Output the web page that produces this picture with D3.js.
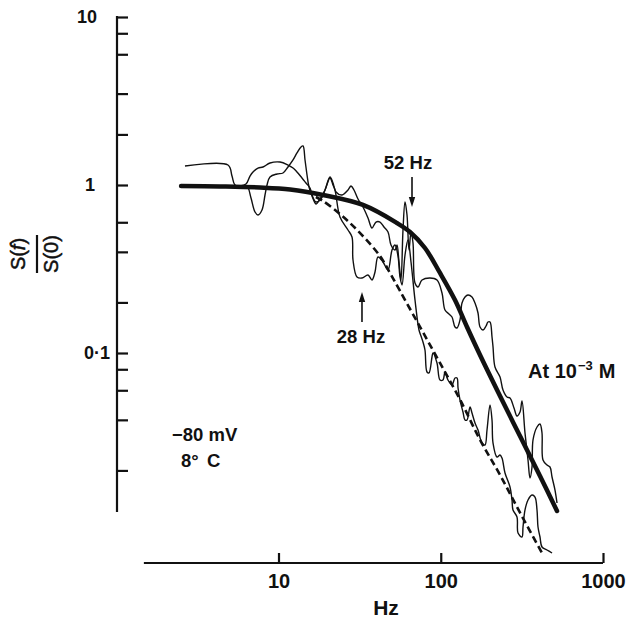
<!DOCTYPE html>
<html><head><meta charset="utf-8">
<script src="https://cdn.jsdelivr.net/npm/d3@7"></script>
<style>html,body{margin:0;padding:0;background:#fff;} svg{display:block;}</style>
</head><body><svg id="chart" width="643" height="619"></svg>
<script>
// ---- axes ----
const xTickValues = [10, 100, 1000];
const xTickLabels = ["10", "100", "1000"];
const yMajorValues = [10, 1, 0.1];
const yMajorLabels = ["10", "1", "0·1"];
const yMinorValues = [8, 6, 3.5, 2, 0.6, 0.4, 0.2, 0.08, 0.06, 0.04, 0.02];
const xAxisStart = 1.48;     // Hz, left end of the x axis line
const yAxisStart = 0.0113;   // lower end of the y axis line

// ---- fitted curves ----
const fitSolidF = [2.51, 4.36, 7.69, 11.8, 18.8, 33.17, 53.74, 64.64, 79.95, 98.94, 122.4, 145.2, 174.6, 231.9, 307.9, 409.0, 520.6];
const fitSolidV = [0.987, 0.980, 0.966, 0.940, 0.872, 0.7605, 0.5938, 0.5252, 0.4217, 0.2994, 0.2067, 0.1428, 0.0973, 0.05546, 0.03206, 0.01853, 0.01147];
const fitDashedF = [17.0, 18.8, 23.9, 30.5, 42.2, 48.7, 56.1, 74.5, 98.9, 131, 175, 232, 308, 421];
const fitDashedV = [0.848, 0.803, 0.672, 0.540, 0.378, 0.299, 0.234, 0.143, 0.0872, 0.0532, 0.0303, 0.0188, 0.0112, 0.00645];

// ---- measured spectra (noisy traces) ----
const traceAF = [2.653, 4.884, 5.169, 5.394, 5.957, 6.396, 6.769, 7.166, 7.477, 7.912,
  8.257, 8.495, 8.864, 9.79, 10.66, 11.44, 12.29, 13.00, 13.76, 14.16,
  14.57, 14.99, 15.42, 16.09, 17.02, 18.02, 19.35, 20.77, 21.67, 22.30,
  23.93, 26.81, 28.38, 28.79, 30.47, 32.71, 35.62, 37.70, 39.34, 41.05,
  44.07, 47.31, 50.07, 52.25, 54.52, 56.09, 57.71, 60.22, 62.83, 65.57,
  69.39, 73.44, 75.55, 77.71, 79.95, 82.26, 84.62, 88.31, 89.57, 94.82,
  98.94, 103.2, 106.2, 110.8, 117.3, 122.4, 126.0, 127.8, 131.4, 137.1,
  141.1, 145.2, 151.5, 155.8, 162.6, 169.7, 179.6, 187.4, 192.8, 201.2,
  207.0, 210.0, 222.3, 231.9, 238.5, 248.9, 267.2, 274.9, 278.8, 295.1,
  299.4, 316.8, 321.4, 330.6, 345.0, 365.2, 381.0, 392.0, 397.6, 409.0,
  420.8, 451.7, 485.1];
const traceAV = [1.297, 1.315, 1.131, 1.000, 0.973, 0.9864, 0.8367, 0.6907, 0.6628, 0.7098,
  0.872, 1.000, 1.116, 1.163, 1.179, 1.280, 1.409, 1.551, 1.684, 1.707,
  1.409, 1.147, 0.973, 0.8602, 0.7708, 0.8254, 0.9338, 1.101, 1.000, 0.9338,
  0.6449, 0.5398, 0.4903, 0.3577, 0.2834, 0.2795, 0.2912, 0.272, 0.3035, 0.3728,
  0.348, 0.3119, 0.4103, 0.4394, 0.3779, 0.2834, 0.254, 0.3831, 0.4706, 0.348,
  0.2067, 0.137, 0.1262, 0.1163, 0.1042, 0.07708, 0.07603, 0.09467, 0.1, 0.0872,
  0.06907, 0.06907, 0.07708, 0.06907, 0.06449, 0.07098, 0.07098, 0.06189, 0.05251, 0.04454,
  0.03993, 0.03993, 0.04771, 0.04394, 0.03831, 0.0348, 0.02912, 0.02834, 0.0348, 0.04903,
  0.03993, 0.02912, 0.02404, 0.0247, 0.02371, 0.01931, 0.01594, 0.01334, 0.01163, 0.01056,
  0.00848, 0.00803, 0.00921, 0.01163, 0.01334, 0.01428, 0.01389, 0.01163, 0.00921, 0.00803,
  0.0070, 0.00672, 0.00645];
const traceBF = [5.790, 6.306, 6.673, 6.963, 7.477, 8.025, 8.864, 10.22, 11.44, 12.29,
  13.00, 13.95, 14.77, 15.64, 16.09, 17.02, 18.28, 19.35, 20.77, 21.67,
  22.62, 24.63, 26.81, 27.98, 29.19, 30.90, 33.17, 35.62, 37.70, 39.89,
  42.23, 44.69, 47.31, 49.36, 52.25, 53.74, 55.29, 56.88, 58.52, 60.22,
  61.95, 63.73, 65.57, 67.45, 69.39, 72.41, 76.64, 85.86, 94.82, 101.8,
  106.2, 112.4, 117.3, 122.4, 126.0, 131.4, 135.2, 141.1, 147.2, 155.8,
  162.6, 169.7, 174.6, 182.2, 190.1, 195.5, 201.2, 207.0, 210.0, 215.9,
  231.9, 241.9, 256.1, 267.2, 282.8, 295.1, 307.9, 316.8, 330.6, 345.0,
  354.8, 365.2, 370.3, 392.0, 409.0, 420.8, 426.8, 451.7, 471.4, 485.1,
  506.0, 520.6];
const traceBV = [0.9864, 1.014, 1.131, 1.195, 1.262, 1.280, 1.352, 1.370, 1.315, 1.262,
  1.195, 1.101, 1.028, 0.9597, 0.872, 0.7922, 0.8254, 0.9338, 1.116, 1.028,
  0.9086, 0.872, 0.9338, 0.9864, 0.9338, 0.8254, 0.7399, 0.6361, 0.5546, 0.6021,
  0.6021, 0.5623, 0.5252, 0.4394, 0.4103, 0.4394, 0.348, 0.272, 0.5398, 0.7922,
  0.6628, 0.4103, 0.5252, 0.4516, 0.261, 0.2471, 0.272, 0.2795, 0.272, 0.2276,
  0.1803, 0.1707, 0.1638, 0.1428, 0.1409, 0.1572, 0.1984, 0.2154, 0.2214, 0.2154,
  0.1984, 0.173, 0.1428, 0.137, 0.1448, 0.1529, 0.1529, 0.1245, 0.1086, 0.08254,
  0.07199, 0.06021, 0.0547, 0.05396, 0.04706, 0.04217, 0.04454, 0.05181, 0.0334, 0.02307,
  0.01803, 0.02096, 0.03035, 0.03627, 0.03779, 0.0334, 0.02307, 0.02154, 0.02096, 0.01828,
  0.01529, 0.0128];

// ---- annotations (arrow anchor frequency, tip value, tail value) ----
const arrowLabels = ["52 Hz", "28 Hz"];
const arrowF = [66.5, 32.7];
const arrowTipV = [0.74, 0.231];
const arrowTailV = [1.116, 0.153];

// ---------------------------------------------------------
const svg = d3.select("#chart");
const x = d3.scaleLog().domain([10, 1000]).range([278.5, 603]);
const y = d3.scaleLog().domain([0.01, 10]).range([521, 17]);
const ink = "#111";
const fontTick = "'Liberation Sans', Arial, sans-serif";

// X axis
const xAxisY = 563;
const gx = svg.append("g").attr("transform", `translate(0,${xAxisY})`)
  .call(d3.axisBottom(x).tickValues(xTickValues).tickFormat((d, i) => xTickLabels[i])
    .tickSizeInner(-10).tickSizeOuter(0).tickPadding(11));
gx.select(".domain").remove();
gx.selectAll(".tick line").attr("stroke", ink).attr("stroke-width", 2.2);
gx.selectAll(".tick text").attr("fill", ink)
  .style("font-family", "'Liberation Sans Narrow', 'Liberation Sans', sans-serif")
  .style("font-weight", "bold").style("font-size", "20px");
svg.append("line").attr("x1", x(xAxisStart)).attr("x2", x(1000))
  .attr("y1", xAxisY).attr("y2", xAxisY).attr("stroke", ink).attr("stroke-width", 2.2);
svg.append("text").text("Hz").attr("x", 386).attr("y", 615).attr("text-anchor", "middle")
  .attr("fill", ink).style("font-family", "'Liberation Sans Narrow', 'Liberation Sans', sans-serif")
  .style("font-weight", "bold").style("font-size", "21px");

// Y axis
const yAxisX = 117;
svg.append("line").attr("x1", yAxisX).attr("x2", yAxisX)
  .attr("y1", y(10) - 1).attr("y2", y(yAxisStart)).attr("stroke", ink).attr("stroke-width", 2.2);
const gy = svg.append("g").attr("transform", `translate(${yAxisX},0)`)
  .call(d3.axisLeft(y).tickValues(yMajorValues.concat(yMinorValues)).tickFormat("")
    .tickSizeInner(-11).tickSizeOuter(0));
gy.select(".domain").remove();
gy.selectAll(".tick line").attr("stroke", ink).attr("stroke-width", 2.2);
const yLabelEnd = [97, 95, 110];
svg.selectAll(".ylab").data(yMajorValues).join("text").attr("class", "ylab")
  .attr("x", (d, i) => yLabelEnd[i]).attr("y", d => y(d) + 6)
  .attr("text-anchor", "end").attr("fill", ink)
  .style("font-family", fontTick).style("font-weight", "bold").style("font-size", "18px")
  .text((d, i) => yMajorLabels[i]);

// Y title: S(f)/S(0) rotated
const yt = svg.append("g").attr("transform", "translate(37,254) rotate(-90)");
const ytFont = "'Liberation Sans', Arial, sans-serif";
const num = yt.append("text").attr("x", 0).attr("y", -12).attr("text-anchor", "middle")
  .attr("fill", ink).attr("stroke", ink).attr("stroke-width", 0.5)
  .style("font-family", ytFont).style("font-size", "20px");
num.append("tspan").text("S(");
num.append("tspan").text("f").style("font-style", "italic");
num.append("tspan").text(")");
yt.append("text").attr("x", 0).attr("y", 21).attr("text-anchor", "middle").attr("fill", ink)
  .attr("stroke", ink).attr("stroke-width", 0.5)
  .style("font-family", ytFont).style("font-size", "20px").text("S(0)");
yt.append("line").attr("x1", -19).attr("x2", 19).attr("y1", 0).attr("y2", 0)
  .attr("stroke", ink).attr("stroke-width", 2.2);

// curves
const smooth = d3.line().x(d => x(d[0])).y(d => y(d[1])).curve(d3.curveCatmullRom.alpha(0.5));
const noisy = d3.line().x(d => x(d[0])).y(d => y(d[1])).curve(d3.curveCatmullRom.alpha(0.5));

svg.append("path").datum(d3.zip(traceAF, traceAV)).attr("d", noisy)
  .attr("fill", "none").attr("stroke", ink).attr("stroke-width", 1.4).attr("stroke-linejoin", "round");
svg.append("path").datum(d3.zip(traceBF, traceBV)).attr("d", noisy)
  .attr("fill", "none").attr("stroke", ink).attr("stroke-width", 1.4).attr("stroke-linejoin", "round");
svg.append("path").datum(d3.zip(fitDashedF, fitDashedV)).attr("d", smooth)
  .attr("fill", "none").attr("stroke", ink).attr("stroke-width", 2.6).attr("stroke-dasharray", "7,4");
svg.append("path").datum(d3.zip(fitSolidF, fitSolidV)).attr("d", smooth)
  .attr("fill", "none").attr("stroke", ink).attr("stroke-width", 4.5).attr("stroke-linecap", "round");

// arrows + labels
const annFont = "'Liberation Sans', Arial, sans-serif";
arrowF.forEach((f, i) => {
  const ax = x(f), tipY = y(arrowTipV[i]), tailY = y(arrowTailV[i]);
  const dir = tipY > tailY ? 1 : -1;
  svg.append("line").attr("x1", ax).attr("x2", ax).attr("y1", tailY).attr("y2", tipY - dir * 8)
    .attr("stroke", ink).attr("stroke-width", 1.6);
  svg.append("path").attr("d", `M${ax},${tipY} L${ax - 3.2},${tipY - dir * 10} L${ax + 3.2},${tipY - dir * 10} Z`)
    .attr("fill", ink);
});
svg.append("text").attr("x", 408).attr("y", 169).attr("text-anchor", "middle").attr("fill", ink)
  .style("font-family", annFont).style("font-weight", "bold").style("font-size", "18.5px").text(arrowLabels[0]);
svg.append("text").attr("x", 361).attr("y", 343).attr("text-anchor", "middle").attr("fill", ink)
  .style("font-family", annFont).style("font-weight", "bold").style("font-size", "18.5px").text(arrowLabels[1]);

const conc = svg.append("text").attr("x", 528).attr("y", 378).attr("fill", ink)
  .style("font-family", annFont).style("font-weight", "bold").style("font-size", "20px");
conc.append("tspan").text("At 10");
conc.append("tspan").text("−3").attr("dy", -8).attr("dx", 1).style("font-size", "13px");
conc.append("tspan").text("M").attr("dy", 8).attr("dx", 6);

svg.append("text").attr("x", 172).attr("y", 441).attr("fill", ink)
  .style("font-family", annFont).style("font-weight", "bold").style("font-size", "18.5px").text("−80 mV");
const temp = svg.append("text").attr("x", 181).attr("y", 467).attr("fill", ink)
  .style("font-family", annFont).style("font-weight", "bold").style("font-size", "18.5px");
temp.append("tspan").text("8°");
temp.append("tspan").text("C").attr("x", 207);
</script></body></html>
